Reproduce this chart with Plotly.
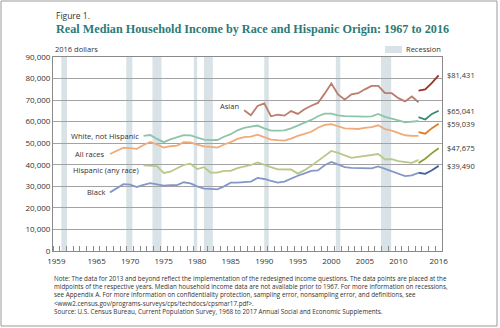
import plotly.graph_objects as go

# Real median household income, 2016 dollars
years_all = list(range(1967, 2014))
all_races = [45000, 46600, 47900, 47700, 47400, 49200, 50600, 49400, 48000, 48600,
             48900, 50500, 50400, 49400, 48500, 48300, 48000, 49400, 50500, 52000,
             52800, 53100, 54000, 52800, 51700, 51400, 51200, 52100, 53400, 54300,
             55300, 57200, 58500, 58800, 57700, 56900, 56800, 56600, 57100, 57500,
             58300, 56500, 55800, 54600, 53700, 53400, 53400]

years_wnh = list(range(1972, 2014))
white_not_hispanic = [53400, 53800, 52000, 50500, 51800, 52600, 53700, 53600, 52500, 51700,
                      51400, 51500, 53000, 54200, 56000, 57100, 57700, 58200, 56900, 55800,
                      55800, 56000, 56900, 58200, 59200, 60800, 62500, 63700, 63700, 62900,
                      62600, 62400, 62200, 62300, 62500, 63600, 62200, 61500, 60600, 59700,
                      60000, 60300]

years_hisp = list(range(1972, 2014))
hispanic = [39700, 39700, 39400, 36200, 36800, 38400, 39900, 40500, 38000, 38900,
            36400, 36400, 37200, 37200, 38400, 39200, 39900, 41100, 39900, 38900,
            37900, 37800, 37800, 35900, 37500, 39500, 41800, 44200, 46400, 45500,
            44200, 43200, 43700, 44200, 44800, 45000, 42500, 42600, 41700, 41200,
            40900, 42300]

years_black = list(range(1967, 2014))
black = [27200, 29000, 31000, 30800, 29700, 30700, 31500, 30900, 30300, 30600,
         30600, 31900, 31400, 30000, 28900, 28800, 28600, 30000, 31700, 31700,
         31800, 32200, 33900, 33400, 32500, 31700, 32200, 33700, 34900, 36000,
         37200, 37400, 39800, 41300, 40200, 38900, 38600, 38500, 38300, 38300,
         39200, 38000, 37100, 35800, 34700, 35100, 36200]

years_asian = list(range(1987, 2014))
asian = [65300, 63000, 67300, 68500, 62500, 63300, 62800, 64900, 63600, 65800,
         67400, 68700, 73000, 77700, 72600, 70200, 72700, 73200, 75000, 76600,
         76600, 73200, 73200, 70900, 69400, 71700, 69000]

# Redesigned income questions, 2013 onward
years_new = [2013, 2014, 2015, 2016]
asian_new = [74400, 75000, 78000, 81431]
white_not_hispanic_new = [62100, 61000, 63600, 65041]
all_races_new = [55200, 54400, 57000, 59039]
hispanic_new = [40800, 42800, 45400, 47675]
black_new = [36300, 35800, 37500, 39490]

# Recession periods (start, end) in fractional years
recessions = [(1960.25, 1961.08), (1969.92, 1970.83), (1973.83, 1975.17),
              (1980.0, 1980.5), (1981.5, 1982.83), (1990.5, 1991.17),
              (2001.17, 2001.83), (2007.92, 2009.42)]

labeled_years = [1959, 1965, 1970, 1975, 1980, 1985, 1990, 1995, 2000, 2005, 2010, 2016]

series = [
    ("Asian", years_asian, asian, asian_new, "#bb7d6c", "#9a3326", 4),
    ("White, not Hispanic", years_wnh, white_not_hispanic, white_not_hispanic_new, "#8cc5a8", "#358a6d", 0),
    ("All races", years_all, all_races, all_races_new, "#efab79", "#e07c26", 0),
    ("Hispanic (any race)", years_hisp, hispanic, hispanic_new, "#b8c78a", "#8c9e36", -5),
    ("Black", years_black, black, black_new, "#8398c8", "#3e62a2", 0),
]

W, H = 500, 328
ML, MR, MT, MB = 53, 58, 57, 77
PW, PH = W - ML - MR, H - MT - MB


def px_x(px):
    return (px - ML) / PW


def px_y(py):
    return (H - MB - py) / PH


FONT = "Open Sans"
TXT = "#333333"

fig = go.Figure()

for name, yrs, vals, vals_new, c_old, c_new, dy in series:
    fig.add_trace(go.Scatter(x=[y + 0.5 for y in yrs], y=vals, mode="lines",
                             line=dict(color=c_old, width=1.8), hoverinfo="skip"))
    fig.add_trace(go.Scatter(x=[y + 0.5 for y in years_new], y=vals_new, mode="lines",
                             line=dict(color=c_new, width=1.8), hoverinfo="skip"))
    fig.add_annotation(x=yrs[0] + 0.5, y=vals[0], xref="x", yref="y", text=name,
                       showarrow=False, xanchor="right", yanchor="middle",
                       xshift=-3, yshift=dy, font=dict(family=FONT, size=7.5, color=TXT))
    fig.add_annotation(x=2017, y=vals_new[-1], xref="x", yref="y",
                       text="${:,}".format(vals_new[-1]), showarrow=False,
                       xanchor="left", yanchor="middle", xshift=3,
                       font=dict(family=FONT, size=7.5, color=TXT))

for x0, x1 in recessions:
    fig.add_shape(type="rect", xref="x", yref="paper", x0=x0, x1=x1, y0=0, y1=1,
                  fillcolor="#d9e2e6", line=dict(width=0), layer="below")

# Legend swatch for recessions
fig.add_shape(type="rect", xref="paper", yref="paper", x0=px_x(385), x1=px_x(402),
              y0=px_y(53), y1=px_y(46), fillcolor="#d9e2e6", line=dict(width=0))
fig.add_annotation(xref="paper", yref="paper", x=px_x(404), y=px_y(49.5), text="Recession",
                   showarrow=False, xanchor="left", yanchor="middle",
                   font=dict(family=FONT, size=7.5, color=TXT))

# Outer frame
fig.add_shape(type="rect", xref="paper", yref="paper", x0=px_x(1), x1=px_x(497),
              y0=px_y(326), y1=px_y(1), line=dict(color="#9a9a9a", width=1),
              fillcolor="rgba(0,0,0,0)")

fig.add_annotation(xref="paper", yref="paper", x=px_x(54), y=px_y(15), text="Figure 1.",
                   showarrow=False, xanchor="left", yanchor="middle",
                   font=dict(family=FONT, size=8.5, color=TXT))
fig.add_annotation(xref="paper", yref="paper", x=px_x(54), y=px_y(29),
                   text="<b>Real Median Household Income by Race and Hispanic Origin: 1967 to 2016</b>",
                   showarrow=False, xanchor="left", yanchor="middle",
                   font=dict(family="Liberation Serif", size=12.2, color="#2b7b78"))
fig.add_annotation(xref="paper", yref="paper", x=px_x(53), y=px_y(49.5), text="2016 dollars",
                   showarrow=False, xanchor="left", yanchor="middle",
                   font=dict(family=FONT, size=7.5, color=TXT))

note_text = (
    "Note: The data for 2013 and beyond reflect the implementation of the redesigned income questions. The data points are placed at the<br>"
    "midpoints of the respective years. Median household income data are not available prior to 1967. For more information on recessions,<br>"
    "see Appendix A. For more information on confidentiality protection, sampling error, nonsampling error, and definitions, see<br>"
    "&lt;www2.census.gov/programs-surveys/cps/techdocs/cpsmar17.pdf&gt;."
)
source_text = "Source: U.S. Census Bureau, Current Population Survey, 1968 to 2017 Annual Social and Economic Supplements."

fig.add_annotation(xref="paper", yref="paper", x=px_x(52), y=px_y(271.5), text=note_text,
                   showarrow=False, xanchor="left", yanchor="top", align="left",
                   font=dict(family=FONT, size=6.3, color=TXT))
fig.add_annotation(xref="paper", yref="paper", x=px_x(52), y=px_y(311), text=source_text,
                   showarrow=False, xanchor="left", yanchor="middle", align="left",
                   font=dict(family=FONT, size=6.3, color=TXT))

fig.update_layout(
    width=W, height=H, margin=dict(l=ML, r=MR, t=MT, b=MB, pad=0),
    paper_bgcolor="white", plot_bgcolor="white", showlegend=False,
    xaxis=dict(range=[1959, 2017], tickmode="array",
               tickvals=[y + 0.5 for y in labeled_years],
               ticktext=[str(y) for y in labeled_years], ticks="",
               ticklabelstandoff=2,
               showgrid=False, zeroline=False, showline=True, linecolor="#8a8a8a",
               linewidth=1, mirror=True,
               tickfont=dict(family=FONT, size=8, color=TXT),
               minor=dict(tickmode="linear", tick0=1959, dtick=1, ticks="inside",
                          ticklen=5, tickcolor="#8a8a8a", showgrid=False)),
    yaxis=dict(range=[0, 90000], dtick=10000, tickformat=",", ticks="",
               showgrid=True, gridcolor="#a3a3a3", gridwidth=1, zeroline=False,
               showline=True, linecolor="#8a8a8a", linewidth=1, mirror=True,
               tickfont=dict(family=FONT, size=8, color=TXT)),
)

fig.write_html("out.html")
